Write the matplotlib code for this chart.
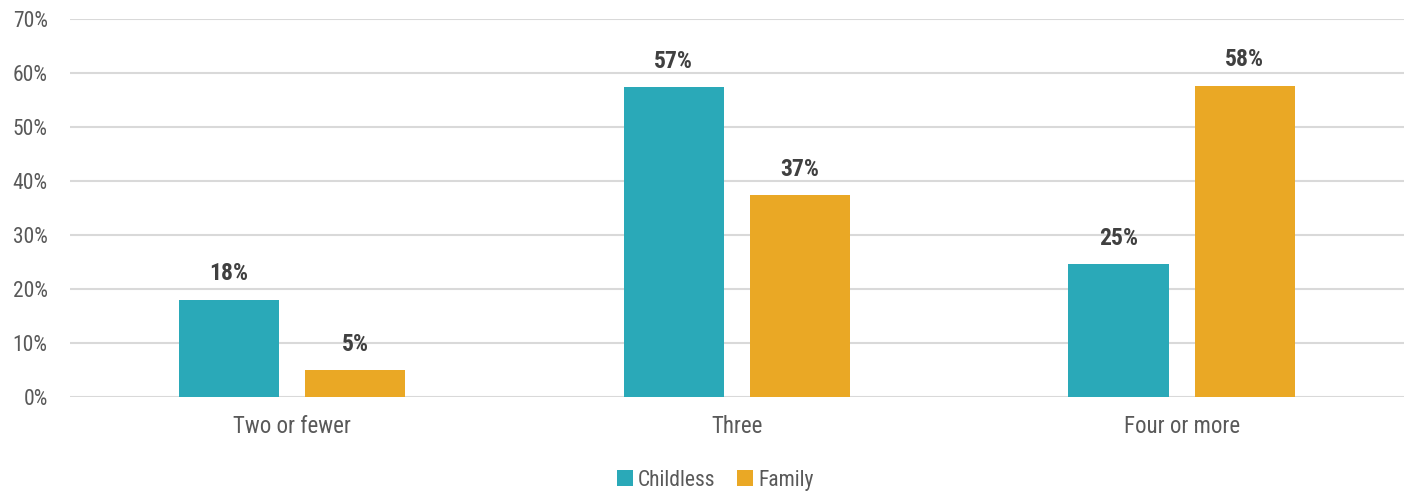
import matplotlib
matplotlib.use("Agg")
import matplotlib.pyplot as plt
import numpy as np
from matplotlib.font_manager import fontManager

categories = ["Two or fewer", "Three", "Four or more"]
childless = [18.0, 57.4, 24.6]
family = [5.0, 37.4, 57.6]
series_names = ["Childless", "Family"]
yticks = [0, 10, 20, 30, 40, 50, 60, 70]

names = {f.name for f in fontManager.ttflist}
fam = "DejaVu Sans"
for cand in ["Roboto Condensed", "Liberation Sans Narrow", "Open Sans Condensed", "DejaVu Sans Condensed", "Roboto"]:
    if cand in names:
        fam = cand
        break
plt.rcParams["font.family"] = [fam, "DejaVu Sans"]

c1 = "#2aa9b8"
c2 = "#eaa825"
tcol = "#595959"

fig = plt.figure(figsize=(14.11, 4.94), dpi=100)
ax = fig.add_axes([0.0496, 0.196, 0.9454, 0.7655])

x = np.arange(len(categories))
w = 0.225
off = 0.142
b1 = ax.bar(x - off, childless, w, color=c1, label=series_names[0], zorder=3)
b2 = ax.bar(x + off, family, w, color=c2, label=series_names[1], zorder=3)

for bars, vals in ((b1, childless), (b2, family)):
    for r, v in zip(bars, vals):
        ax.annotate(f"{round(v):d}%", (r.get_x() + r.get_width() / 2, r.get_height()),
                    xytext=(0, 10.5), textcoords="offset points", ha="center", va="bottom",
                    fontsize=17, fontweight="bold", color="#404040")

ax.set_xlim(-0.5, 2.5)
ax.set_ylim(0, 70)
ax.set_yticks(yticks)
ax.set_yticklabels([f"{t}%" for t in yticks])
ax.set_xticks(x)
ax.set_xticklabels(categories)
ax.tick_params(axis="both", length=0, colors=tcol)
ax.tick_params(axis="y", pad=16, labelsize=15.5)
ax.tick_params(axis="x", pad=13, labelsize=16.5)
ax.yaxis.grid(True, color="#d9d9d9", linewidth=1.5, zorder=0)
ax.set_axisbelow(True)
for s in ax.spines.values():
    s.set_visible(False)

fig.legend(handles=[b1, b2], labels=series_names, loc="center", bbox_to_anchor=(0.507, 0.028),
           ncol=2, frameon=False, fontsize=15.5, handlelength=0.75, handleheight=0.75,
           handletextpad=0.25, columnspacing=1.0, labelcolor=tcol)

fig.savefig("out.png", dpi=100)
